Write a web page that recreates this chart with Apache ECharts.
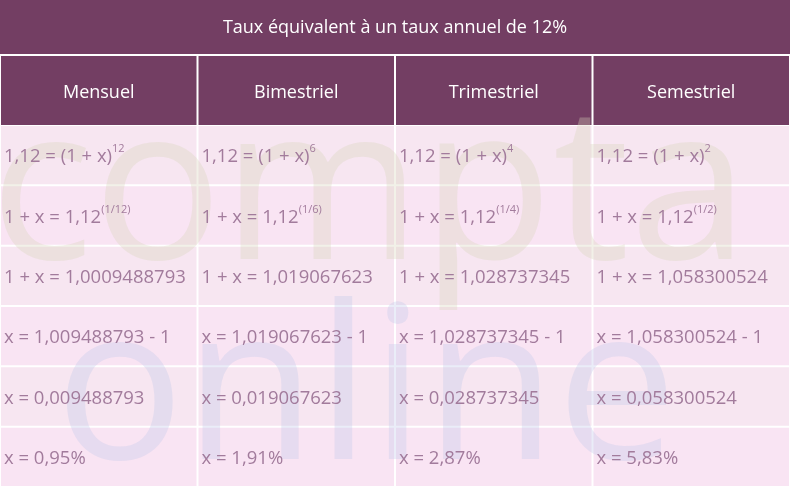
<!DOCTYPE html>
<html><head><meta charset="utf-8">
<script src="https://cdn.jsdelivr.net/npm/echarts@6/dist/echarts.min.js"></script>
<style>html,body{margin:0;padding:0;background:#fff}#c{width:790px;height:487px}</style>
</head><body><div id="c"></div>
<script>
const title = 'Taux équivalent à un taux annuel de 12%';
const columns = ['Mensuel', 'Bimestriel', 'Trimestriel', 'Semestriel'];
const rowMensuel = ['1,12 = (1 + x){s|12}', '1 + x = 1,12{s|(1/12)}', '1 + x = 1,0009488793', 'x = 1,009488793 - 1', 'x = 0,009488793', 'x = 0,95%'];
const rowBimestriel = ['1,12 = (1 + x){s|6}', '1 + x = 1,12{s|(1/6)}', '1 + x = 1,019067623', 'x = 1,019067623 - 1', 'x = 0,019067623', 'x = 1,91%'];
const rowTrimestriel = ['1,12 = (1 + x){s|4}', '1 + x = 1,12{s|(1/4)}', '1 + x = 1,028737345', 'x = 1,028737345 - 1', 'x = 0,028737345', 'x = 2,87%'];
const rowSemestriel = ['1,12 = (1 + x){s|2}', '1 + x = 1,12{s|(1/2)}', '1 + x = 1,058300524', 'x = 1,058300524 - 1', 'x = 0,058300524', 'x = 5,83%'];
const colsData = [rowMensuel, rowBimestriel, rowTrimestriel, rowSemestriel];
const rowNames = ['r1', 'r2', 'r3', 'r4', 'r5', 'r6'];

const headCells = columns.map((c, i) => [i, 0, c]);
const cells = [];
colsData.forEach((col, i) => col.forEach((t, j) => cells.push([i, j, t])));

const chart = echarts.init(document.getElementById('c'));
function cellRect(api) {
  const p = api.coord([api.value(0), api.value(1)]);
  const s = api.size([1, 1]);
  return {x: p[0] - s[0] / 2, y: p[1] - s[1] / 2, w: s[0], h: s[1]};
}
const TXT = '#A27B9C';
function bgSeries(data, idx, head) {
  return {type: 'custom', z: 1, data: data, silent: true, xAxisIndex: idx, yAxisIndex: idx,
    renderItem: (params, api) => {
      const r = cellRect(api);
      const row = api.value(1);
      return {type: 'rect', shape: {x: r.x + 1, y: r.y + 1, width: r.w - 2, height: r.h - 2},
        style: {fill: head ? '#733E63' : (row % 2 ? '#F9E4F3' : '#F7E6F1')}};
    }};
}
function txtSeries(data, idx, head) {
  return {type: 'custom', z: 10, data: data, silent: true, xAxisIndex: idx, yAxisIndex: idx,
    renderItem: (params, api) => {
      const r = cellRect(api);
      const txt = data[params.dataIndex][2];
      return {type: 'text', x: head ? r.x + r.w / 2 : r.x + 4, y: r.y + r.h / 2 + 2,
        style: {text: txt, fill: head ? '#fff' : TXT,
          font: head ? '18px "Open Sans"' : '18.5px "Open Sans"', align: head ? 'center' : 'left', verticalAlign: 'middle',
          rich: {s: {fontSize: 11, fontFamily: 'Open Sans', fill: TXT, verticalAlign: 'top', padding: [0, 0, 16, 0]}}}};
    }};
}
chart.setOption({
  backgroundColor: '#fff',
  animation: false,
  grid: [{left: 0, right: 0, top: 55, height: 71}, {left: 0, right: 0, top: 125, bottom: 0}],
  xAxis: [{type: 'category', data: columns, show: false, gridIndex: 0},
          {type: 'category', data: columns, show: false, gridIndex: 1}],
  yAxis: [{type: 'category', data: ['h'], show: false, gridIndex: 0},
          {type: 'category', data: rowNames, inverse: true, show: false, gridIndex: 1}],
  graphic: [
    {type: 'rect', shape: {x: 0, y: 0, width: 790, height: 54}, style: {fill: '#733E63'}, z: 1},
    {type: 'text', x: 395, y: 28, style: {text: title, fill: '#fff', font: '18px "Open Sans"', align: 'center', verticalAlign: 'middle'}, z: 2},
    {type: 'text', x: -10, y: 305, style: {text: 'compta', fill: 'rgba(215,212,185,0.33)', font: '215px "Open Sans"', verticalAlign: 'bottom'}, z: 5},
    {type: 'text', x: 55, y: 505, style: {text: 'online', fill: 'rgba(190,200,235,0.33)', font: '215px "Open Sans"', verticalAlign: 'bottom'}, z: 5}
  ],
  series: [
    bgSeries(headCells, 0, true), bgSeries(cells, 1, false),
    txtSeries(headCells, 0, true), txtSeries(cells, 1, false)
  ]
});
</script></body></html>
